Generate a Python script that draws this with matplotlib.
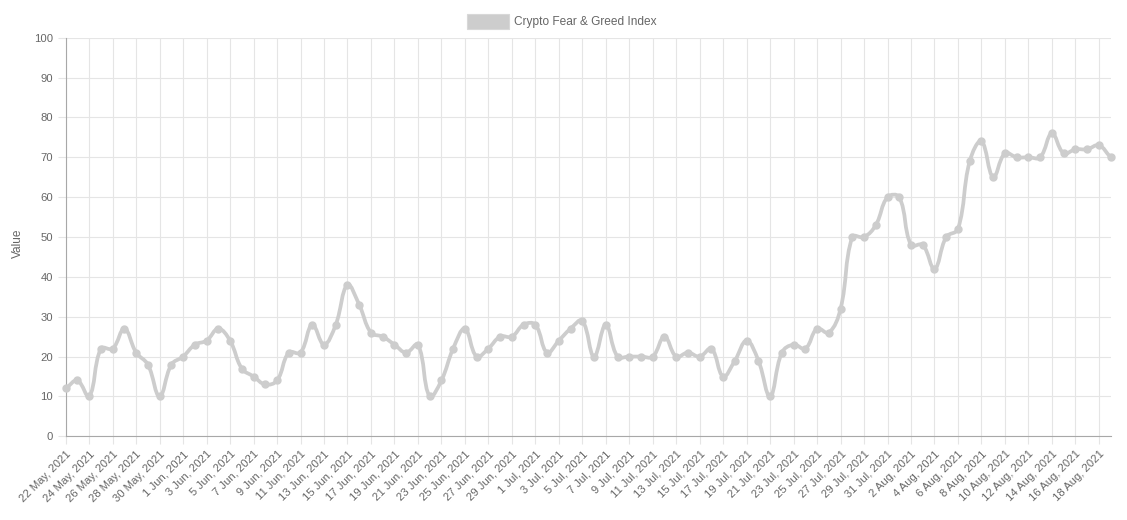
import datetime as dt
import numpy as np
import matplotlib
matplotlib.use("Agg")
import matplotlib.pyplot as plt
from matplotlib.path import Path
from matplotlib.patches import PathPatch, Rectangle

plt.rcParams['font.family'] = ['Liberation Sans', 'DejaVu Sans']

# Crypto Fear & Greed Index, daily from 22 May 2021
start = dt.date(2021, 5, 22)
values = [12, 14, 10, 22, 22, 27, 21, 18, 10, 18,                    # 22-31 May
          20, 23, 24, 27, 24, 17, 15, 13, 14, 21,                    # 1-10 Jun
          21, 28, 23, 28, 38, 33, 26, 25, 23, 21,                    # 11-20 Jun
          23, 10, 14, 22, 27, 20, 22, 25, 25, 28,                    # 21-30 Jun
          28, 21, 24, 27, 29, 20, 28, 20, 20, 20,                    # 1-10 Jul
          20, 25, 20, 21, 20, 22, 15, 19, 24, 19,                    # 11-20 Jul
          10, 21, 23, 22, 27, 26, 32, 50, 50, 53, 60,                # 21-31 Jul
          60, 48, 48, 42, 50, 52, 69, 74, 65, 71,                    # 1-10 Aug
          70, 70, 70, 76, 71, 72, 72, 73, 70]                        # 11-19 Aug
series_name = "Crypto Fear & Greed Index"
y_label = "Value"

dates = [start + dt.timedelta(days=i) for i in range(len(values))]
tick_pos = list(range(0, len(values) - 1, 2))
tick_labels = ["%d %s, %d" % (dates[i].day, dates[i].strftime("%b"), dates[i].year) for i in tick_pos]

W, H = 1127, 520
line_col = "#cdcdcd"
text_col = "#666666"
grid_col = "#e5e5e5"

fig = plt.figure(figsize=(W / 100, H / 100), dpi=100)
left, right, top, bottom = 65.7, 1110.6, 37.7, 436.3
ax = fig.add_axes([left / W, 1 - bottom / H, (right - left) / W, (bottom - top) / H])

x = np.arange(len(values), dtype=float)
y = np.array(values, dtype=float)
ax.set_xlim(0, len(values) - 1)
ax.set_ylim(0, 100)

# chart.js style spline (tension 0.4) computed in pixel space
sx = (right - left) / (len(values) - 1)
sy = (bottom - top) / 100.0
px, py = x * sx, y * sy
n = len(px)
cp_prev = np.zeros((n, 2))
cp_next = np.zeros((n, 2))
t = 0.4
for i in range(n):
    p0 = np.array([px[max(i - 1, 0)], py[max(i - 1, 0)]])
    p1 = np.array([px[i], py[i]])
    p2 = np.array([px[min(i + 1, n - 1)], py[min(i + 1, n - 1)]])
    d01 = np.hypot(*(p1 - p0))
    d12 = np.hypot(*(p2 - p1))
    tot = d01 + d12 if d01 + d12 > 0 else 1
    fa = t * d01 / tot
    fb = t * d12 / tot
    cp_prev[i] = p1 - fa * (p2 - p0)
    cp_next[i] = p1 + fb * (p2 - p0)

verts = [(px[0], py[0])]
codes = [Path.MOVETO]
for i in range(n - 1):
    verts += [tuple(cp_next[i]), tuple(cp_prev[i + 1]), (px[i + 1], py[i + 1])]
    codes += [Path.CURVE4] * 3
verts = [(vx / sx, vy / sy) for vx, vy in verts]
ax.add_patch(PathPatch(Path(verts, codes), fill=False, edgecolor=line_col,
                       lw=2.7, capstyle="round", joinstyle="round", zorder=3))
ax.plot(x, y, "o", color=line_col, markersize=5, zorder=4, clip_on=False)

ax.set_xticks(tick_pos)
ax.set_xticklabels(tick_labels, rotation=45, ha="right", rotation_mode="anchor")
ax.set_yticks(range(0, 101, 10))
ax.tick_params(axis="both", colors=grid_col, labelcolor=text_col, labelsize=8.1,
               length=6, width=0.8)
ax.tick_params(axis="x", pad=3)
ax.tick_params(axis="y", pad=3)
ax.grid(True, color=grid_col, lw=0.8)
ax.set_axisbelow(True)
for s in ["top", "right"]:
    ax.spines[s].set_visible(False)
for s in ["left", "bottom"]:
    ax.spines[s].set_color("#a8a8a8")
    ax.spines[s].set_linewidth(0.8)

fig.text(18 / W, 1 - 243 / H, y_label, rotation=90, ha="center", va="center",
         color=text_col, fontsize=8.6)

# legend
fig.patches.append(Rectangle((467 / W, 1 - 29 / H), 42 / W, 15 / H, transform=fig.transFigure,
                             facecolor=line_col, edgecolor="#d8d8d8", lw=0.8))
fig.text(514 / W, 1 - 21.5 / H, series_name, ha="left", va="center", color=text_col, fontsize=8.6)

fig.savefig("out.png", dpi=100)
